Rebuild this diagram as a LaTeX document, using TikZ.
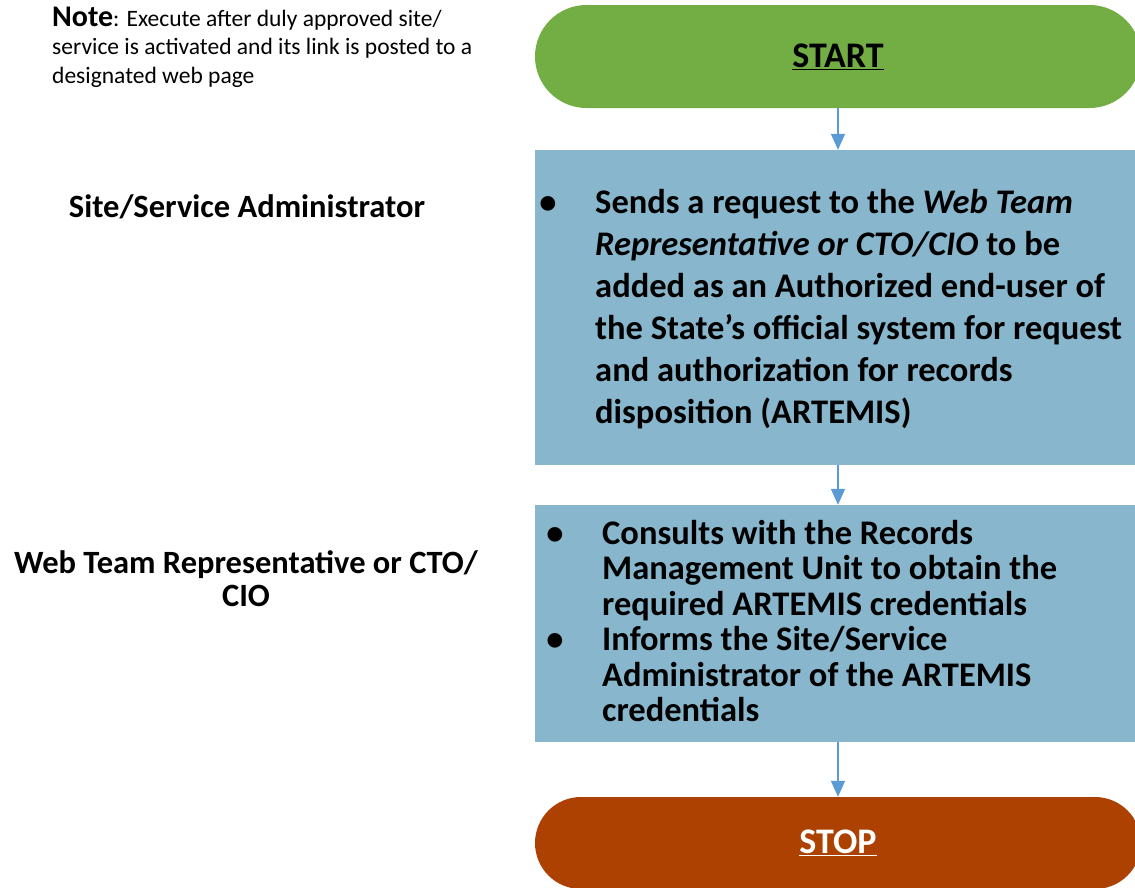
\documentclass[tikz,border=0pt]{standalone}
\usepackage{fontspec}
\setmainfont{Carlito}
\usetikzlibrary{arrows.meta}
\definecolor{startgreen}{HTML}{72AE44}
\definecolor{stepblue}{HTML}{88B6CC}
\definecolor{stopbrown}{HTML}{AD4101}
\definecolor{flowarrow}{HTML}{5B9BD5}
\begin{document}
\begin{tikzpicture}[x=1pt,y=-1pt,
  terminal/.style={rounded corners=#1, minimum width=606pt, inner sep=0pt, font=\bfseries\fontsize{36}{40}\selectfont},
  stepbox/.style={fill=stepblue, minimum width=606pt, inner sep=0pt},
  bullet/.style={anchor=base, inner sep=0pt, font=\bfseries\fontsize{34.5}{40}\selectfont},
  % multi-line nodes are placed by the baseline of their last line
  steptext/.style={anchor=base west, inner sep=0pt, align=left, font=\bfseries\fontsize{34.5}{#1}\selectfont},
  rolelabel/.style={anchor=base, align=center, inner sep=0pt, font=\bfseries\fontsize{32.5}{33}\selectfont},
  flow/.style={draw=flowarrow, line width=1.6pt, -{Triangle[length=16pt,width=14pt]}}
]
\useasboundingbox (0,0) rectangle (1135,887);
\clip (0,0) rectangle (1135,887);

% terminals and process boxes
\node[terminal=51.5pt, fill=startgreen, minimum height=103pt] (start) at (838,56.5) {\underline{START}};
\node[stepbox, minimum height=315pt] (send) at (838,307.5) {};
\node[stepbox, minimum height=237pt] (consult) at (838,623.5) {};
\node[terminal=46pt, fill=stopbrown, text=white, minimum height=92pt] (stop) at (838,843) {\underline{STOP}};

% bullet lists inside the process boxes
\node[bullet] (b1) at (548,213) {•};
\node[steptext=42] (sendtext) at (595,423) {%
  Sends a request to the \textit{Web Team}\\
  \textit{Representative or CTO/CIO} to be\\
  added as an Authorized end-user of\\
  the State’s official system for request\\
  and authorization for records\\
  disposition (ARTEMIS)};

\node[bullet] (b2) at (555,544) {•};
\node[steptext=35.5] (consulttext) at (602,615) {%
  Consults with the Records\\
  Management Unit to obtain the\\
  required ARTEMIS credentials};
\node[bullet] (b3) at (555,650.5) {•};
\node[steptext=35.5] (informtext) at (602,721.5) {%
  Informs the Site/Service\\
  Administrator of the ARTEMIS\\
  credentials};

% connectors
\draw[flow] (start.south) -- (send.north);
\draw[flow] (send.south) -- (consult.north);
\draw[flow] (consult.south) -- (stop.north);

% role labels and note
\node[rolelabel] (siteadmin) at (247,217) {Site/Service Administrator};
\node[rolelabel] (webteam) at (246,606) {Web Team Representative or CTO/\\CIO};
\node[anchor=base west, align=left, inner sep=0pt, font=\fontsize{23.5}{28.5}\selectfont] (note) at (52,83)
  {{\bfseries\fontsize{30}{28.5}\selectfont Note}: Execute after duly approved site/\\
   service is activated and its link is posted to a\\
   designated web page};
\end{tikzpicture}
\end{document}
